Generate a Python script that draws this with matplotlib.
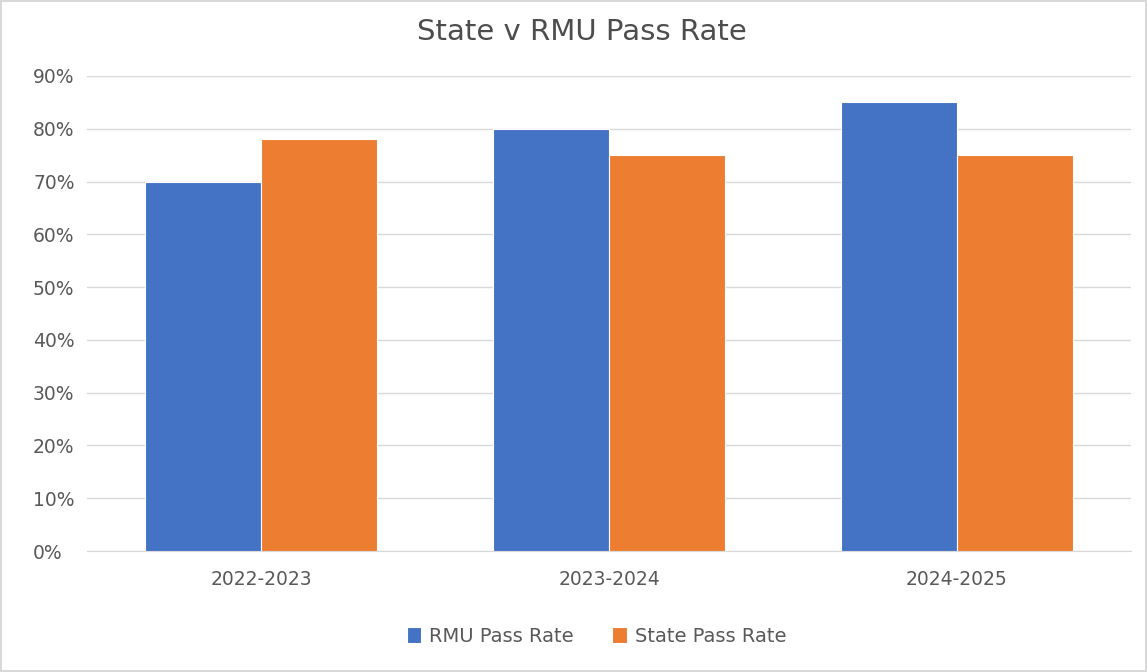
import matplotlib.pyplot as plt
import numpy as np
from matplotlib.ticker import PercentFormatter

years = ['2022-2023', '2023-2024', '2024-2025']
rmu_rate = [0.70, 0.80, 0.85]
state_rate = [0.78, 0.75, 0.75]
yticks = [0, 0.1, 0.2, 0.3, 0.4, 0.5, 0.6, 0.7, 0.8, 0.9]

blue = '#4472C4'
orange = '#ED7D31'
txt = '#595959'

fig = plt.figure(figsize=(11.47, 6.72), dpi=100)
fig.patch.set_edgecolor('#D9D9D9')
fig.patch.set_linewidth(1.5)
ax = fig.add_axes([0.076, 0.18, 0.91, 0.707])

x = np.arange(len(years))
w = 0.333
ax.bar(x - w / 2, rmu_rate, w, color=blue, edgecolor='white', linewidth=0.8,
       label='RMU Pass Rate', zorder=3)
ax.bar(x + w / 2, state_rate, w, color=orange, edgecolor='white', linewidth=0.8,
       label='State Pass Rate', zorder=3)

ax.set_xlim(-0.5, 2.5)
ax.set_ylim(0, 0.9)
ax.set_yticks(yticks)
ax.yaxis.set_major_formatter(PercentFormatter(1.0, decimals=0))
ax.set_xticks(x)
ax.set_xticklabels(years)
ax.grid(axis='y', color='#D9D9D9', linewidth=1, zorder=0)
for s in ['top', 'right', 'left']:
    ax.spines[s].set_visible(False)
ax.spines['bottom'].set_color('#D9D9D9')
ax.tick_params(axis='both', length=0, colors=txt, labelsize=13.5)
ax.tick_params(axis='x', pad=14)
# excel puts the % labels flush left
ax.tick_params(axis='y', pad=39)
for lab in ax.get_yticklabels():
    lab.set_horizontalalignment('left')

fig.text(0.507, 0.952, 'State v RMU Pass Rate', ha='center', va='center',
         fontsize=21, color='#4d4d4d')
fig.legend(loc='center', bbox_to_anchor=(0.52, 0.053), ncol=2, frameon=False,
           fontsize=14, labelcolor=txt, handlelength=0.75, handleheight=0.85,
           columnspacing=2.0, handletextpad=0.4)

fig.savefig('out.png', dpi=100, edgecolor=fig.get_edgecolor())
